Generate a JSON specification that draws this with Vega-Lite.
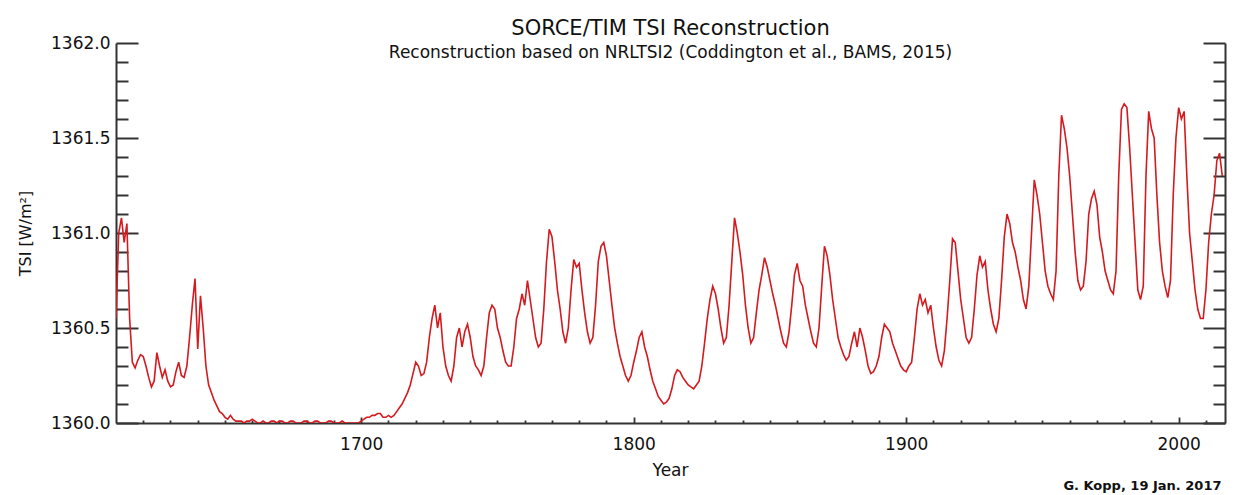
{
  "$schema": "https://vega.github.io/schema/vega-lite/v6.json",
  "width": 1109,
  "height": 380,
  "autosize": {"type": "none"},
  "padding": {"left": 116, "top": 43, "right": 32, "bottom": 72},
  "background": "white",
  "config": {
    "view": {"stroke": null},
    "font": "DejaVu Sans",
    "axis": {"grid": false, "labelColor": "#111", "titleColor": "#111", "domainColor": "#333", "tickColor": "#333", "labelFont": "DejaVu Sans", "titleFont": "DejaVu Sans", "titleFontWeight": "normal"}
  },
  "title": {
    "text": "SORCE/TIM TSI Reconstruction",
    "subtitle": "Reconstruction based on NRLTSI2 (Coddington et al., BAMS, 2015)",
    "anchor": "middle",
    "frame": "group",
    "fontSize": 21,
    "fontWeight": "normal",
    "color": "#111",
    "subtitleFontSize": 17,
    "subtitleColor": "#111",
    "subtitlePadding": 6,
    "offset": -27
  },
  "data": {"values": [
    {"year": 1610, "tsi": 1360.55}, {"year": 1611, "tsi": 1361.0}, {"year": 1612, "tsi": 1361.08}, {"year": 1613, "tsi": 1360.95}, {"year": 1614, "tsi": 1361.05},
    {"year": 1615, "tsi": 1360.55}, {"year": 1616, "tsi": 1360.32}, {"year": 1617, "tsi": 1360.29}, {"year": 1618, "tsi": 1360.33}, {"year": 1619, "tsi": 1360.36},
    {"year": 1620, "tsi": 1360.35}, {"year": 1621, "tsi": 1360.3}, {"year": 1622, "tsi": 1360.24}, {"year": 1623, "tsi": 1360.19}, {"year": 1624, "tsi": 1360.22},
    {"year": 1625, "tsi": 1360.37}, {"year": 1626, "tsi": 1360.3}, {"year": 1627, "tsi": 1360.24}, {"year": 1628, "tsi": 1360.28}, {"year": 1629, "tsi": 1360.22},
    {"year": 1630, "tsi": 1360.19}, {"year": 1631, "tsi": 1360.2}, {"year": 1632, "tsi": 1360.27}, {"year": 1633, "tsi": 1360.32}, {"year": 1634, "tsi": 1360.25},
    {"year": 1635, "tsi": 1360.24}, {"year": 1636, "tsi": 1360.3}, {"year": 1637, "tsi": 1360.45}, {"year": 1638, "tsi": 1360.62}, {"year": 1639, "tsi": 1360.76},
    {"year": 1640, "tsi": 1360.39}, {"year": 1641, "tsi": 1360.67}, {"year": 1642, "tsi": 1360.5}, {"year": 1643, "tsi": 1360.3}, {"year": 1644, "tsi": 1360.2},
    {"year": 1645, "tsi": 1360.16}, {"year": 1646, "tsi": 1360.12}, {"year": 1647, "tsi": 1360.09}, {"year": 1648, "tsi": 1360.06}, {"year": 1649, "tsi": 1360.05},
    {"year": 1650, "tsi": 1360.03}, {"year": 1651, "tsi": 1360.02}, {"year": 1652, "tsi": 1360.04}, {"year": 1653, "tsi": 1360.02}, {"year": 1654, "tsi": 1360.01},
    {"year": 1655, "tsi": 1360.01}, {"year": 1656, "tsi": 1360.01}, {"year": 1657, "tsi": 1360.0}, {"year": 1658, "tsi": 1360.01}, {"year": 1659, "tsi": 1360.01},
    {"year": 1660, "tsi": 1360.02}, {"year": 1661, "tsi": 1360.01}, {"year": 1662, "tsi": 1360.0}, {"year": 1663, "tsi": 1360.0}, {"year": 1664, "tsi": 1360.01},
    {"year": 1665, "tsi": 1360.0}, {"year": 1666, "tsi": 1360.0}, {"year": 1667, "tsi": 1360.01}, {"year": 1668, "tsi": 1360.01}, {"year": 1669, "tsi": 1360.0},
    {"year": 1670, "tsi": 1360.01}, {"year": 1671, "tsi": 1360.01}, {"year": 1672, "tsi": 1360.0}, {"year": 1673, "tsi": 1360.0}, {"year": 1674, "tsi": 1360.01},
    {"year": 1675, "tsi": 1360.01}, {"year": 1676, "tsi": 1360.0}, {"year": 1677, "tsi": 1360.0}, {"year": 1678, "tsi": 1360.0}, {"year": 1679, "tsi": 1360.01},
    {"year": 1680, "tsi": 1360.01}, {"year": 1681, "tsi": 1360.0}, {"year": 1682, "tsi": 1360.0}, {"year": 1683, "tsi": 1360.01}, {"year": 1684, "tsi": 1360.01},
    {"year": 1685, "tsi": 1360.0}, {"year": 1686, "tsi": 1360.0}, {"year": 1687, "tsi": 1360.0}, {"year": 1688, "tsi": 1360.01}, {"year": 1689, "tsi": 1360.01},
    {"year": 1690, "tsi": 1360.0}, {"year": 1691, "tsi": 1360.0}, {"year": 1692, "tsi": 1360.0}, {"year": 1693, "tsi": 1360.01}, {"year": 1694, "tsi": 1360.0},
    {"year": 1695, "tsi": 1360.0}, {"year": 1696, "tsi": 1360.0}, {"year": 1697, "tsi": 1360.0}, {"year": 1698, "tsi": 1360.0}, {"year": 1699, "tsi": 1360.0},
    {"year": 1700, "tsi": 1360.01}, {"year": 1701, "tsi": 1360.02}, {"year": 1702, "tsi": 1360.03}, {"year": 1703, "tsi": 1360.03}, {"year": 1704, "tsi": 1360.04},
    {"year": 1705, "tsi": 1360.04}, {"year": 1706, "tsi": 1360.05}, {"year": 1707, "tsi": 1360.05}, {"year": 1708, "tsi": 1360.03}, {"year": 1709, "tsi": 1360.03},
    {"year": 1710, "tsi": 1360.04}, {"year": 1711, "tsi": 1360.03}, {"year": 1712, "tsi": 1360.04}, {"year": 1713, "tsi": 1360.06}, {"year": 1714, "tsi": 1360.08},
    {"year": 1715, "tsi": 1360.1}, {"year": 1716, "tsi": 1360.13}, {"year": 1717, "tsi": 1360.16}, {"year": 1718, "tsi": 1360.2}, {"year": 1719, "tsi": 1360.26},
    {"year": 1720, "tsi": 1360.32}, {"year": 1721, "tsi": 1360.3}, {"year": 1722, "tsi": 1360.25}, {"year": 1723, "tsi": 1360.26}, {"year": 1724, "tsi": 1360.32},
    {"year": 1725, "tsi": 1360.45}, {"year": 1726, "tsi": 1360.55}, {"year": 1727, "tsi": 1360.62}, {"year": 1728, "tsi": 1360.5}, {"year": 1729, "tsi": 1360.58},
    {"year": 1730, "tsi": 1360.4}, {"year": 1731, "tsi": 1360.3}, {"year": 1732, "tsi": 1360.25}, {"year": 1733, "tsi": 1360.22}, {"year": 1734, "tsi": 1360.3},
    {"year": 1735, "tsi": 1360.45}, {"year": 1736, "tsi": 1360.5}, {"year": 1737, "tsi": 1360.4}, {"year": 1738, "tsi": 1360.48}, {"year": 1739, "tsi": 1360.52},
    {"year": 1740, "tsi": 1360.45}, {"year": 1741, "tsi": 1360.35}, {"year": 1742, "tsi": 1360.3}, {"year": 1743, "tsi": 1360.28}, {"year": 1744, "tsi": 1360.25},
    {"year": 1745, "tsi": 1360.3}, {"year": 1746, "tsi": 1360.45}, {"year": 1747, "tsi": 1360.58}, {"year": 1748, "tsi": 1360.62}, {"year": 1749, "tsi": 1360.6},
    {"year": 1750, "tsi": 1360.5}, {"year": 1751, "tsi": 1360.45}, {"year": 1752, "tsi": 1360.38}, {"year": 1753, "tsi": 1360.32}, {"year": 1754, "tsi": 1360.3},
    {"year": 1755, "tsi": 1360.3}, {"year": 1756, "tsi": 1360.4}, {"year": 1757, "tsi": 1360.55}, {"year": 1758, "tsi": 1360.6}, {"year": 1759, "tsi": 1360.68},
    {"year": 1760, "tsi": 1360.62}, {"year": 1761, "tsi": 1360.75}, {"year": 1762, "tsi": 1360.65}, {"year": 1763, "tsi": 1360.55}, {"year": 1764, "tsi": 1360.45},
    {"year": 1765, "tsi": 1360.4}, {"year": 1766, "tsi": 1360.42}, {"year": 1767, "tsi": 1360.6}, {"year": 1768, "tsi": 1360.85}, {"year": 1769, "tsi": 1361.02},
    {"year": 1770, "tsi": 1360.98}, {"year": 1771, "tsi": 1360.85}, {"year": 1772, "tsi": 1360.7}, {"year": 1773, "tsi": 1360.6}, {"year": 1774, "tsi": 1360.48},
    {"year": 1775, "tsi": 1360.42}, {"year": 1776, "tsi": 1360.5}, {"year": 1777, "tsi": 1360.7}, {"year": 1778, "tsi": 1360.86}, {"year": 1779, "tsi": 1360.82},
    {"year": 1780, "tsi": 1360.84}, {"year": 1781, "tsi": 1360.7}, {"year": 1782, "tsi": 1360.58}, {"year": 1783, "tsi": 1360.48}, {"year": 1784, "tsi": 1360.42},
    {"year": 1785, "tsi": 1360.45}, {"year": 1786, "tsi": 1360.62}, {"year": 1787, "tsi": 1360.85}, {"year": 1788, "tsi": 1360.93}, {"year": 1789, "tsi": 1360.95},
    {"year": 1790, "tsi": 1360.88}, {"year": 1791, "tsi": 1360.75}, {"year": 1792, "tsi": 1360.62}, {"year": 1793, "tsi": 1360.5}, {"year": 1794, "tsi": 1360.42},
    {"year": 1795, "tsi": 1360.35}, {"year": 1796, "tsi": 1360.3}, {"year": 1797, "tsi": 1360.25}, {"year": 1798, "tsi": 1360.22}, {"year": 1799, "tsi": 1360.25},
    {"year": 1800, "tsi": 1360.32}, {"year": 1801, "tsi": 1360.38}, {"year": 1802, "tsi": 1360.45}, {"year": 1803, "tsi": 1360.48}, {"year": 1804, "tsi": 1360.4},
    {"year": 1805, "tsi": 1360.35}, {"year": 1806, "tsi": 1360.28}, {"year": 1807, "tsi": 1360.22}, {"year": 1808, "tsi": 1360.18}, {"year": 1809, "tsi": 1360.14},
    {"year": 1810, "tsi": 1360.12}, {"year": 1811, "tsi": 1360.1}, {"year": 1812, "tsi": 1360.11}, {"year": 1813, "tsi": 1360.13}, {"year": 1814, "tsi": 1360.18},
    {"year": 1815, "tsi": 1360.25}, {"year": 1816, "tsi": 1360.28}, {"year": 1817, "tsi": 1360.27}, {"year": 1818, "tsi": 1360.24}, {"year": 1819, "tsi": 1360.22},
    {"year": 1820, "tsi": 1360.2}, {"year": 1821, "tsi": 1360.19}, {"year": 1822, "tsi": 1360.18}, {"year": 1823, "tsi": 1360.2}, {"year": 1824, "tsi": 1360.22},
    {"year": 1825, "tsi": 1360.3}, {"year": 1826, "tsi": 1360.42}, {"year": 1827, "tsi": 1360.55}, {"year": 1828, "tsi": 1360.65}, {"year": 1829, "tsi": 1360.72},
    {"year": 1830, "tsi": 1360.68}, {"year": 1831, "tsi": 1360.6}, {"year": 1832, "tsi": 1360.5}, {"year": 1833, "tsi": 1360.42}, {"year": 1834, "tsi": 1360.45},
    {"year": 1835, "tsi": 1360.62}, {"year": 1836, "tsi": 1360.85}, {"year": 1837, "tsi": 1361.08}, {"year": 1838, "tsi": 1361.0}, {"year": 1839, "tsi": 1360.9},
    {"year": 1840, "tsi": 1360.78}, {"year": 1841, "tsi": 1360.62}, {"year": 1842, "tsi": 1360.5}, {"year": 1843, "tsi": 1360.42}, {"year": 1844, "tsi": 1360.45},
    {"year": 1845, "tsi": 1360.58}, {"year": 1846, "tsi": 1360.7}, {"year": 1847, "tsi": 1360.78}, {"year": 1848, "tsi": 1360.87}, {"year": 1849, "tsi": 1360.82},
    {"year": 1850, "tsi": 1360.75}, {"year": 1851, "tsi": 1360.68}, {"year": 1852, "tsi": 1360.62}, {"year": 1853, "tsi": 1360.55}, {"year": 1854, "tsi": 1360.48},
    {"year": 1855, "tsi": 1360.42}, {"year": 1856, "tsi": 1360.4}, {"year": 1857, "tsi": 1360.48}, {"year": 1858, "tsi": 1360.62}, {"year": 1859, "tsi": 1360.78},
    {"year": 1860, "tsi": 1360.84}, {"year": 1861, "tsi": 1360.75}, {"year": 1862, "tsi": 1360.72}, {"year": 1863, "tsi": 1360.62}, {"year": 1864, "tsi": 1360.55},
    {"year": 1865, "tsi": 1360.48}, {"year": 1866, "tsi": 1360.42}, {"year": 1867, "tsi": 1360.4}, {"year": 1868, "tsi": 1360.5}, {"year": 1869, "tsi": 1360.72},
    {"year": 1870, "tsi": 1360.93}, {"year": 1871, "tsi": 1360.88}, {"year": 1872, "tsi": 1360.78}, {"year": 1873, "tsi": 1360.65}, {"year": 1874, "tsi": 1360.55},
    {"year": 1875, "tsi": 1360.45}, {"year": 1876, "tsi": 1360.4}, {"year": 1877, "tsi": 1360.36}, {"year": 1878, "tsi": 1360.33}, {"year": 1879, "tsi": 1360.35},
    {"year": 1880, "tsi": 1360.42}, {"year": 1881, "tsi": 1360.48}, {"year": 1882, "tsi": 1360.4}, {"year": 1883, "tsi": 1360.5}, {"year": 1884, "tsi": 1360.45},
    {"year": 1885, "tsi": 1360.38}, {"year": 1886, "tsi": 1360.3}, {"year": 1887, "tsi": 1360.26}, {"year": 1888, "tsi": 1360.27}, {"year": 1889, "tsi": 1360.3},
    {"year": 1890, "tsi": 1360.35}, {"year": 1891, "tsi": 1360.45}, {"year": 1892, "tsi": 1360.52}, {"year": 1893, "tsi": 1360.5}, {"year": 1894, "tsi": 1360.48},
    {"year": 1895, "tsi": 1360.42}, {"year": 1896, "tsi": 1360.38}, {"year": 1897, "tsi": 1360.34}, {"year": 1898, "tsi": 1360.3}, {"year": 1899, "tsi": 1360.28},
    {"year": 1900, "tsi": 1360.27}, {"year": 1901, "tsi": 1360.3}, {"year": 1902, "tsi": 1360.32}, {"year": 1903, "tsi": 1360.45}, {"year": 1904, "tsi": 1360.6},
    {"year": 1905, "tsi": 1360.68}, {"year": 1906, "tsi": 1360.62}, {"year": 1907, "tsi": 1360.65}, {"year": 1908, "tsi": 1360.58}, {"year": 1909, "tsi": 1360.62},
    {"year": 1910, "tsi": 1360.5}, {"year": 1911, "tsi": 1360.4}, {"year": 1912, "tsi": 1360.33}, {"year": 1913, "tsi": 1360.3}, {"year": 1914, "tsi": 1360.38},
    {"year": 1915, "tsi": 1360.55}, {"year": 1916, "tsi": 1360.75}, {"year": 1917, "tsi": 1360.97}, {"year": 1918, "tsi": 1360.95}, {"year": 1919, "tsi": 1360.8},
    {"year": 1920, "tsi": 1360.65}, {"year": 1921, "tsi": 1360.55}, {"year": 1922, "tsi": 1360.45}, {"year": 1923, "tsi": 1360.42}, {"year": 1924, "tsi": 1360.45},
    {"year": 1925, "tsi": 1360.6}, {"year": 1926, "tsi": 1360.78}, {"year": 1927, "tsi": 1360.88}, {"year": 1928, "tsi": 1360.82}, {"year": 1929, "tsi": 1360.85},
    {"year": 1930, "tsi": 1360.7}, {"year": 1931, "tsi": 1360.6}, {"year": 1932, "tsi": 1360.52}, {"year": 1933, "tsi": 1360.48}, {"year": 1934, "tsi": 1360.55},
    {"year": 1935, "tsi": 1360.75}, {"year": 1936, "tsi": 1360.98}, {"year": 1937, "tsi": 1361.1}, {"year": 1938, "tsi": 1361.05}, {"year": 1939, "tsi": 1360.95},
    {"year": 1940, "tsi": 1360.9}, {"year": 1941, "tsi": 1360.82}, {"year": 1942, "tsi": 1360.75}, {"year": 1943, "tsi": 1360.65}, {"year": 1944, "tsi": 1360.6},
    {"year": 1945, "tsi": 1360.72}, {"year": 1946, "tsi": 1361.0}, {"year": 1947, "tsi": 1361.28}, {"year": 1948, "tsi": 1361.2}, {"year": 1949, "tsi": 1361.1},
    {"year": 1950, "tsi": 1360.95}, {"year": 1951, "tsi": 1360.8}, {"year": 1952, "tsi": 1360.72}, {"year": 1953, "tsi": 1360.68}, {"year": 1954, "tsi": 1360.65},
    {"year": 1955, "tsi": 1360.8}, {"year": 1956, "tsi": 1361.3}, {"year": 1957, "tsi": 1361.62}, {"year": 1958, "tsi": 1361.55}, {"year": 1959, "tsi": 1361.45},
    {"year": 1960, "tsi": 1361.3}, {"year": 1961, "tsi": 1361.1}, {"year": 1962, "tsi": 1360.9}, {"year": 1963, "tsi": 1360.75}, {"year": 1964, "tsi": 1360.7},
    {"year": 1965, "tsi": 1360.72}, {"year": 1966, "tsi": 1360.85}, {"year": 1967, "tsi": 1361.1}, {"year": 1968, "tsi": 1361.18}, {"year": 1969, "tsi": 1361.22},
    {"year": 1970, "tsi": 1361.15}, {"year": 1971, "tsi": 1360.98}, {"year": 1972, "tsi": 1360.9}, {"year": 1973, "tsi": 1360.8}, {"year": 1974, "tsi": 1360.75},
    {"year": 1975, "tsi": 1360.7}, {"year": 1976, "tsi": 1360.68}, {"year": 1977, "tsi": 1360.8}, {"year": 1978, "tsi": 1361.3}, {"year": 1979, "tsi": 1361.65},
    {"year": 1980, "tsi": 1361.68}, {"year": 1981, "tsi": 1361.66}, {"year": 1982, "tsi": 1361.45}, {"year": 1983, "tsi": 1361.2}, {"year": 1984, "tsi": 1360.95},
    {"year": 1985, "tsi": 1360.7}, {"year": 1986, "tsi": 1360.65}, {"year": 1987, "tsi": 1360.72}, {"year": 1988, "tsi": 1361.3}, {"year": 1989, "tsi": 1361.64},
    {"year": 1990, "tsi": 1361.55}, {"year": 1991, "tsi": 1361.5}, {"year": 1992, "tsi": 1361.2}, {"year": 1993, "tsi": 1360.95}, {"year": 1994, "tsi": 1360.8},
    {"year": 1995, "tsi": 1360.72}, {"year": 1996, "tsi": 1360.66}, {"year": 1997, "tsi": 1360.75}, {"year": 1998, "tsi": 1361.2}, {"year": 1999, "tsi": 1361.5},
    {"year": 2000, "tsi": 1361.66}, {"year": 2001, "tsi": 1361.6}, {"year": 2002, "tsi": 1361.64}, {"year": 2003, "tsi": 1361.3}, {"year": 2004, "tsi": 1361.0},
    {"year": 2005, "tsi": 1360.85}, {"year": 2006, "tsi": 1360.7}, {"year": 2007, "tsi": 1360.6}, {"year": 2008, "tsi": 1360.55}, {"year": 2009, "tsi": 1360.55},
    {"year": 2010, "tsi": 1360.7}, {"year": 2011, "tsi": 1360.95}, {"year": 2012, "tsi": 1361.1}, {"year": 2013, "tsi": 1361.2}, {"year": 2014, "tsi": 1361.38},
    {"year": 2015, "tsi": 1361.42}, {"year": 2016, "tsi": 1361.3}
  ]},
  "resolve": {"axis": {"x": "independent", "y": "independent"}},
  "layer": [
    {
      "mark": {"type": "line", "color": "#d41a1f", "strokeWidth": 1.6, "clip": true},
      "encoding": {
        "x": {"field": "year", "type": "quantitative",
              "scale": {"domain": [1610, 2017], "nice": false, "zero": false},
              "axis": {"orient": "bottom", "values": [1700, 1800, 1900, 2000], "format": "d", "ticks": false, "tickSize": 0, "labelPadding": 13, "labelFontSize": 17, "domain": true, "domainWidth": 2, "title": "Year", "titleFontSize": 17, "titleX": 554, "titleY": 52, "titleBaseline": "alphabetic", "titleAnchor": null}},
        "y": {"field": "tsi", "type": "quantitative",
              "scale": {"domain": [1360, 1362], "nice": false, "zero": false},
              "axis": {"orient": "left", "values": [1360, 1360.5, 1361, 1361.5, 1362], "format": ".1f", "ticks": false, "tickSize": 0, "labelPadding": 6, "labelFontSize": 17, "domain": true, "domainWidth": 2, "title": "TSI [W/m²]", "titleFontSize": 16, "titleAngle": -90, "titleX": -91, "titleY": 190, "titleAlign": "center", "titleBaseline": "middle"}}
      }
    },
    {
      "mark": {"type": "line", "strokeOpacity": 0},
      "encoding": {
        "x": {"field": "year", "type": "quantitative",
              "axis": {"orient": "bottom", "values": [1700, 1800, 1900, 2000], "labels": false, "domain": false, "tickSize": -6, "tickWidth": 1.8, "title": null}},
        "y": {"field": "tsi", "type": "quantitative",
              "axis": {"orient": "left", "values": [1360, 1360.5, 1361, 1361.5, 1362], "labels": false, "domain": false, "tickSize": -22, "tickWidth": 2, "title": null}}
      }
    },
    {
      "mark": {"type": "line", "strokeOpacity": 0},
      "encoding": {
        "x": {"field": "year", "type": "quantitative",
              "axis": {"orient": "bottom", "values": [1620, 1630, 1640, 1650, 1660, 1670, 1680, 1690, 1710, 1720, 1730, 1740, 1750, 1760, 1770, 1780, 1790, 1810, 1820, 1830, 1840, 1850, 1860, 1870, 1880, 1890, 1910, 1920, 1930, 1940, 1950, 1960, 1970, 1980, 1990, 2010], "labels": false, "domain": false, "tickSize": -3, "tickWidth": 1.8, "title": "G. Kopp, 19 Jan. 2017", "titleFontSize": 13, "titleFontWeight": "bold", "titleX": 1105, "titleY": 66, "titleAlign": "right", "titleBaseline": "alphabetic", "titleAnchor": null}},
        "y": {"field": "tsi", "type": "quantitative",
              "axis": {"orient": "left", "values": [1360.1, 1360.2, 1360.3, 1360.4, 1360.6, 1360.7, 1360.8, 1360.9, 1361.1, 1361.2, 1361.3, 1361.4, 1361.6, 1361.7, 1361.8, 1361.9], "labels": false, "domain": false, "tickSize": -12, "tickWidth": 2, "title": null}}
      }
    },
    {
      "mark": {"type": "line", "strokeOpacity": 0},
      "encoding": {
        "x": {"field": "year", "type": "quantitative", "axis": null},
        "y": {"field": "tsi", "type": "quantitative",
              "axis": {"orient": "right", "values": [1360, 1360.5, 1361, 1361.5, 1362], "labels": false, "domain": true, "domainWidth": 2, "tickSize": -22, "tickWidth": 2, "title": null}}
      }
    },
    {
      "mark": {"type": "line", "strokeOpacity": 0},
      "encoding": {
        "x": {"field": "year", "type": "quantitative", "axis": null},
        "y": {"field": "tsi", "type": "quantitative",
              "axis": {"orient": "right", "values": [1360.1, 1360.2, 1360.3, 1360.4, 1360.6, 1360.7, 1360.8, 1360.9, 1361.1, 1361.2, 1361.3, 1361.4, 1361.6, 1361.7, 1361.8, 1361.9], "labels": false, "domain": false, "tickSize": -12, "tickWidth": 2, "title": null}}
      }
    }
  ]
}
